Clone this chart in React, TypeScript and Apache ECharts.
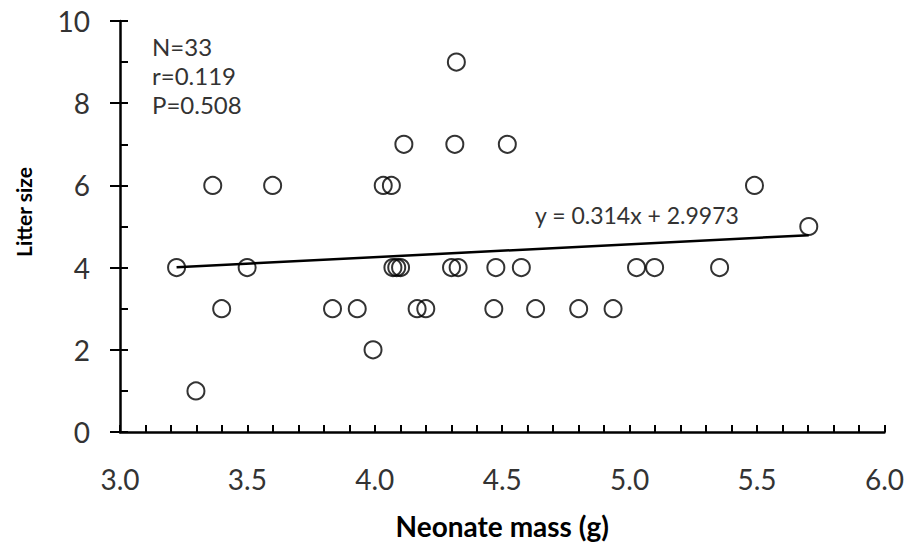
import React, { useEffect, useRef } from "react";
import * as echarts from "echarts";

// Neonate mass (g)
const massValues = [
  3.222, 3.298, 3.364, 3.399, 3.499, 3.599, 3.834, 3.931, 3.993, 4.033, 4.065,
  4.071, 4.086, 4.101, 4.114, 4.166, 4.2, 4.301, 4.314, 4.32, 4.327, 4.467,
  4.475, 4.52, 4.575, 4.631, 4.8, 4.935, 5.027, 5.098, 5.353, 5.49, 5.703,
];
// Litter size
const litterValues = [
  4, 1, 6, 3, 4, 6, 3, 3, 2, 6, 6, 4, 4, 4, 7, 3, 3, 4, 7, 9, 4, 3, 4, 7, 4, 3,
  3, 3, 4, 4, 4, 6, 5,
];
const trendSlope = 0.314;
const trendIntercept = 2.9973;
const statsLines = ["N=33", "r=0.119", "P=0.508"];
const equationText = "y = 0.314x + 2.9973";
const xTitle = "Neonate mass (g)";
const yTitle = "Litter size";

const FONT = 'Lato, "Open Sans", sans-serif';

export default function App() {
  const ref = useRef<HTMLDivElement>(null);
  useEffect(() => {
    if (!ref.current) return;
    const chart = echarts.init(ref.current, null, { renderer: "svg" });
    const points = massValues.map((x, i) => [x, litterValues[i]]);
    const xMin = Math.min(...massValues);
    const xMax = Math.max(...massValues);
    const trend = [
      [xMin, trendSlope * xMin + trendIntercept],
      [xMax, trendSlope * xMax + trendIntercept],
    ];
    chart.setOption({
      animation: false,
      backgroundColor: "#ffffff",
      grid: { left: 120, right: 22, top: 21, bottom: 117, containLabel: false },
      xAxis: {
        type: "value",
        min: 3,
        max: 6,
        interval: 0.5,
        name: xTitle,
        nameLocation: "middle",
        nameGap: 80,
        nameTextStyle: { fontFamily: FONT, fontSize: 28, fontWeight: "bold", color: "#000" },
        axisLine: { lineStyle: { color: "#000", width: 2.5 } },
        axisTick: { inside: true, length: 7, lineStyle: { color: "#000", width: 2 } },
        minorTick: { show: true, splitNumber: 5, length: 7, lineStyle: { color: "#000", width: 2 } },
        axisLabel: {
          margin: 33,
          fontFamily: FONT,
          fontSize: 28,
          color: "#333",
          formatter: (v: number) => v.toFixed(1),
        },
        splitLine: { show: false },
      },
      yAxis: [
        {
          type: "value",
          min: 0,
          max: 10,
          interval: 2,
          axisLine: { show: true, lineStyle: { color: "#000", width: 2.5 } },
          axisTick: { show: true, inside: true, length: 8, lineStyle: { color: "#000", width: 2 } },
          minorTick: { show: true, splitNumber: 2, length: 8, lineStyle: { color: "#000", width: 2 } },
          axisLabel: { margin: 30, fontFamily: FONT, fontSize: 28, color: "#333" },
          splitLine: { show: false },
        },
        {
          type: "value",
          min: 0,
          max: 10,
          interval: 2,
          position: "left",
          axisLine: { show: false },
          axisTick: { show: true, inside: false, length: 10, lineStyle: { color: "#000", width: 2 } },
          axisLabel: { show: false },
          splitLine: { show: false },
        },
      ],
      series: [
        {
          type: "line",
          data: trend,
          symbol: "none",
          lineStyle: { color: "#000", width: 2.5 },
          z: 2,
        },
        {
          type: "scatter",
          data: points,
          symbol: "circle",
          symbolSize: 17,
          itemStyle: { color: "rgba(0,0,0,0)", borderColor: "#000", borderWidth: 2 },
          z: 3,
        },
      ],
      graphic: [
        {
          type: "text",
          x: 23,
          y: 212,
          rotation: Math.PI / 2,
          style: {
            text: yTitle,
            fontFamily: FONT,
            fontSize: 21,
            fontWeight: "bold",
            fill: "#000",
            textAlign: "center",
            textVerticalAlign: "middle",
          },
        },
        {
          type: "text",
          left: 152,
          top: 32,
          style: {
            text: statsLines.join("\n"),
            fontFamily: FONT,
            fontSize: 24,
            lineHeight: 29,
            fill: "#333",
          },
        },
        {
          type: "text",
          left: 535,
          top: 203,
          style: { text: equationText, fontFamily: FONT, fontSize: 23, fill: "#333" },
        },
      ],
    });
    return () => chart.dispose();
  }, []);
  return <div ref={ref} style={{ width: 907, height: 549, position: "absolute", left: 0, top: 0 }} />;
}
